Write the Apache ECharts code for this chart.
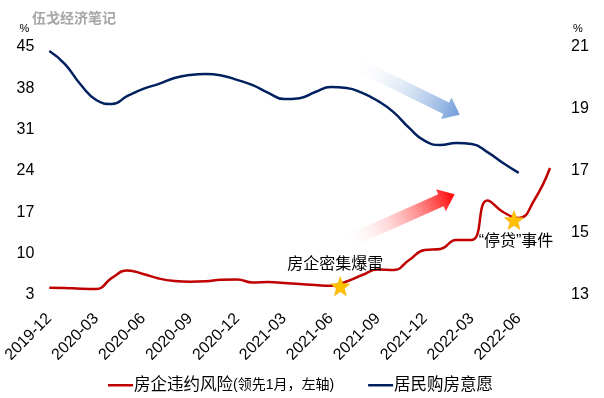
<!DOCTYPE html>
<html>
<head>
<meta charset="utf-8">
<script src="https://cdn.jsdelivr.net/npm/echarts@6/dist/echarts.min.js"></script>
<style>
  html, body { margin: 0; padding: 0; background: #fff; }
  #chart { width: 604px; height: 398px; }
</style>
</head>
<body>
<div id="chart"></div>
<script>
const FONT = "Liberation Sans, Arial, Noto Sans CJK SC, sans-serif";

// 月份（红线领先1月，所以多两个月）
const months = [
  "2019-12", "2020-01", "2020-02", "2020-03", "2020-04", "2020-05", "2020-06",
  "2020-07", "2020-08", "2020-09", "2020-10", "2020-11", "2020-12",
  "2021-01", "2021-02", "2021-03", "2021-04", "2021-05", "2021-06",
  "2021-07", "2021-08", "2021-09", "2021-10", "2021-11", "2021-12",
  "2022-01", "2022-02", "2022-03", "2022-04", "2022-05", "2022-06",
  "2022-07", "2022-08",
];
// 房企违约风险(领先1月，左轴)
const riskLead = [
  4.24, 4.19, 4.07, 4.02, 5.9, 7.15, 6.56, 5.79, 5.37, 5.25, 5.32, 5.57, 5.62,
  5.12, 5.2, 5.03, 4.86, 4.69, 4.57, 5.29, 6.39, 7.32, 7.23, 8.93, 10.62,
  10.79, 12.31, 12.31, 19.0, 17.06, 16.04, 19.09, 24.5,
];
// 居民购房意愿（右轴）
const buyWill = [
  20.87, 20.45, 19.79, 19.29, 19.16, 19.42, 19.65, 19.81, 20.0, 20.1, 20.13,
  20.08, 19.94, 19.77, 19.52, 19.32, 19.35, 19.55, 19.71, 19.68, 19.52, 19.26,
  18.9, 18.39, 17.97, 17.84, 17.9, 17.87, 17.61, 17.26, 16.94,
];
// 事件标注（月份序号可带小数）
const eventX = [18.6, 29.7];
const eventY = [4.5, 15.7];
const eventNames = ["房企密集爆雷", "“停贷”事件"];

const xTicks = [0, 3, 6, 9, 12, 15, 18, 21, 24, 27, 30];
const leftTicks = [3, 10, 17, 24, 31, 38, 45];
const rightTicks = [13, 15, 17, 19, 21];

const redName = "房企违约风险(领先1月，左轴)";
const blueName = "居民购房意愿";

const STAR = "path://M12,1 L14.9,8.6 L23,9 L16.7,14.2 L18.8,22 L12,17.6 L5.2,22 L7.3,14.2 L1,9 L9.1,8.6 Z";

// 箭头（装饰）
const arrow = (x, y, angle, color) => {
  const L = 120, hl = 15, hw = 12, sw = 6.5;
  return {
    type: "polygon",
    x: x,
    y: y,
    rotation: angle,
    z: 1,
    shape: {
      points: [[0, -sw], [L - hl, -sw], [L - hl, -hw], [L, 0], [L - hl, hw], [L - hl, sw], [0, sw]],
    },
    style: {
      fill: new echarts.graphic.LinearGradient(0, 0, 1, 0, [
        { offset: 0, color: "rgba(255,255,255,0)" },
        { offset: 1, color: color },
      ]),
    },
  };
};

const chart = echarts.init(document.getElementById("chart"));

const options = {
  animation: false,
  backgroundColor: "#fff",
  textStyle: { fontFamily: FONT },
  title: {
    text: "伍戈经济笔记",
    left: 27,
    top: 7,
    textStyle: { color: "#a6a6a6", fontSize: 14, fontWeight: "bold", fontFamily: FONT },
  },
  grid: { left: 48, right: 54, top: 47, bottom: 103 },
  legend: {
    data: [redName, blueName],
    left: 103,
    top: 372,
    icon: "rect",
    itemWidth: 25,
    itemHeight: 2.5,
    itemGap: 34,
    formatter: (name) => (name === redName ? "{a|房企违约风险}{b|(领先1月，左轴)}" : "{a|" + name + "}"),
    textStyle: {
      padding: [0, 0, 0, -4],
      rich: {
        a: { fontSize: 16.5, color: "#000", fontFamily: FONT },
        b: { fontSize: 14, color: "#000", fontFamily: FONT },
      },
    },
  },
  xAxis: {
    type: "value",
    min: 0,
    max: months.length - 1,
    axisLine: { show: false },
    axisTick: { show: false },
    splitLine: { show: false },
    axisLabel: {
      customValues: xTicks,
      rotate: 45,
      margin: 21,
      fontSize: 16,
      color: "#000",
      fontFamily: FONT,
      formatter: (v) => months[v],
    },
  },
  yAxis: [
    {
      type: "value",
      min: 3,
      max: 45,
      name: "%",
      nameGap: 13,
      nameTextStyle: { fontSize: 11, color: "#000", align: "right", padding: [0, 20, 0, 0] },
      axisLine: { show: false },
      axisTick: { show: false },
      splitLine: { show: false },
      axisLabel: { customValues: leftTicks, fontSize: 16, color: "#000", margin: 15, fontFamily: FONT },
    },
    {
      type: "value",
      min: 13,
      max: 21,
      name: "%",
      nameGap: 13,
      nameTextStyle: { fontSize: 11, color: "#000", align: "left", padding: [0, 0, 0, 23] },
      axisLine: { show: false },
      axisTick: { show: false },
      splitLine: { show: false },
      axisLabel: { customValues: rightTicks, fontSize: 16, color: "#000", margin: 21, fontFamily: FONT },
    },
  ],
  graphic: [
    arrow(345, 243, 0.419, "#ff0000"),
    arrow(352, 62, -0.456, "#6f9bd9"),
  ],
  series: [
    {
      name: redName,
      type: "line",
      yAxisIndex: 0,
      smooth: true,
      symbol: "none",
      z: 3,
      lineStyle: { color: "#c00000", width: 2.5 },
      itemStyle: { color: "#c00000" },
      data: riskLead.map((v, i) => [i, v]),
      markPoint: {
        symbol: STAR,
        symbolSize: 19,
        itemStyle: { color: "#ffc000", borderColor: "#f0a800", borderWidth: 0.5 },
        data: eventNames.map((n, k) => ({
          name: n,
          coord: [eventX[k], eventY[k]],
          label: {
            show: true,
            formatter: n,
            position: k === 0 ? "top" : "bottom",
            distance: 4,
            offset: k === 0 ? [-5, 0] : [2, 0],
            fontSize: 16,
            color: "#000",
            fontFamily: FONT,
          },
        })),
      },
    },
    {
      name: blueName,
      type: "line",
      yAxisIndex: 1,
      smooth: true,
      symbol: "none",
      z: 2,
      lineStyle: { color: "#002060", width: 2.5 },
      itemStyle: { color: "#002060" },
      data: buyWill.map((v, i) => [i, v]),
    },
  ],
};

chart.setOption(options);
</script>
</body>
</html>
